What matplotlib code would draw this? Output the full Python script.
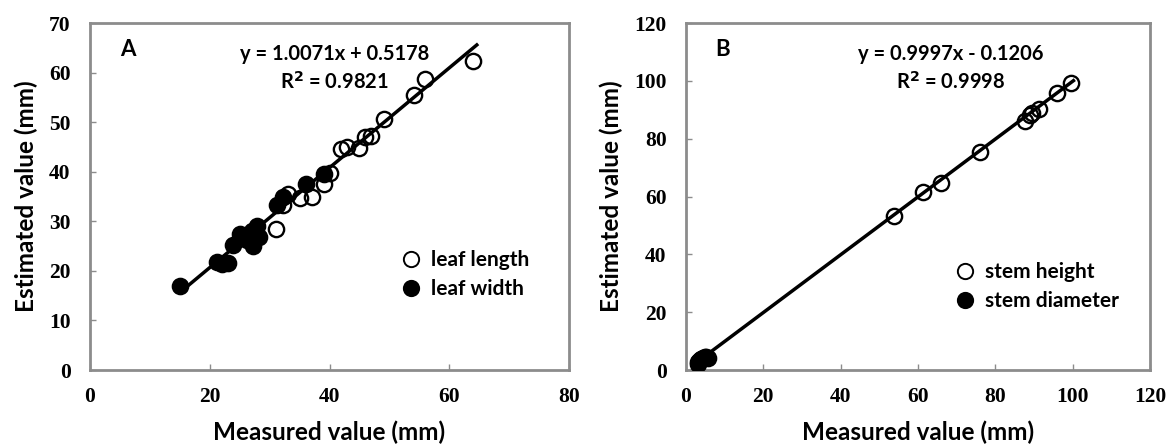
import numpy as np
import matplotlib
matplotlib.use('Agg')
import matplotlib.pyplot as plt
from matplotlib.lines import Line2D

# ---------------- DATA ----------------
# A: leaf length (open) / leaf width (filled), mm
leaf_length_x = [64.0, 56.0, 54.1, 49.1, 47.0, 45.9, 45.0, 43.0, 42.0, 40.0, 39.0, 37.0, 35.0, 33.0, 32.2, 31.0]
leaf_length_y = [62.3, 58.7, 55.5, 50.7, 47.2, 47.0, 44.8, 45.0, 44.5, 39.7, 37.6, 35.0, 34.6, 35.5, 33.3, 28.4]
leaf_width_x = [15.1, 21.2, 22.0, 23.0, 23.8, 25.0, 26.2, 27.3, 27.0, 27.9, 28.3, 31.2, 32.3, 36.0, 39.0]
leaf_width_y = [17.0, 21.8, 21.4, 21.5, 25.2, 27.4, 26.2, 25.1, 28.0, 29.1, 26.9, 33.2, 34.9, 37.5, 39.5]

# B: stem height (open) / stem diameter (filled), mm
stem_height_x = [99.6, 95.9, 91.4, 89.6, 89.0, 87.6, 76.1, 66.0, 61.4, 53.8]
stem_height_y = [99.4, 95.8, 90.3, 89.0, 88.3, 86.0, 75.4, 64.8, 61.4, 53.2]
stem_diam_x = [3.0, 3.2, 3.4, 3.7, 4.0, 4.4, 4.8, 5.3, 5.6]
stem_diam_y = [2.0, 2.6, 3.2, 3.5, 3.8, 4.1, 4.4, 4.6, 4.2]

fit_A = (1.0071, 0.5178)
fit_B = (0.9997, -0.1206)
eq_A = ['y = 1.0071x + 0.5178', 'R$^\\mathbf{2}$ = 0.9821']
eq_B = ['y = 0.9997x - 0.1206', 'R$^\\mathbf{2}$ = 0.9998']

# ---------------- STYLE ----------------
SANS = 'Lato'
SERIF = 'Liberation Serif'
GREY = '#8c8c8c'
MS = 11

fig = plt.figure(figsize=(11.74, 4.48), dpi=100)
axA = fig.add_axes([90/1174, 78/448, 479/1174, 347/448])
axB = fig.add_axes([686/1174, 78/448, 464/1174, 347/448])


def style_axes(ax, xmax, xstep, ymax, ystep):
    ax.set_xlim(0, xmax)
    ax.set_ylim(0, ymax)
    ax.set_xticks(np.arange(0, xmax + 1, xstep))
    ax.set_yticks(np.arange(0, ymax + 1, ystep))
    for s in ax.spines.values():
        s.set_color(GREY)
        s.set_linewidth(2)
    ax.tick_params(direction='in', length=4, width=1, color=GREY)
    ax.tick_params(axis='x', pad=12)
    ax.tick_params(axis='y', pad=14)
    for lab in ax.get_xticklabels() + ax.get_yticklabels():
        lab.set_fontfamily(SERIF)
        lab.set_fontweight('bold')
        lab.set_fontsize(15.5)
    ax.set_xlabel('Measured value (mm)', family=SANS, fontweight='bold', fontsize=17.5, labelpad=10)
    ax.set_ylabel('Estimated value (mm)', family=SANS, fontweight='bold', fontsize=17.5, labelpad=8)


def panel(ax, ox, oy, fx, fy, fit, eq, letter, labels, eq_x, leg_anchor):
    all_x = np.array(ox + fx)
    xs = np.array([all_x.min(), all_x.max() + 0.6])
    ax.plot(xs, fit[0] * xs + fit[1], color='black', lw=2.5, zorder=2)
    ax.plot(ox, oy, 'o', ms=MS, mfc='none', mec='black', mew=1.7, zorder=3)
    ax.plot(fx, fy, 'o', ms=MS, mfc='black', mec='black', mew=1.7, zorder=4)
    ax.text(0.062, 0.925, letter, transform=ax.transAxes, family=SANS, fontweight='bold',
            fontsize=16, ha='left', va='center')
    ax.text(eq_x, 0.91, eq[0], transform=ax.transAxes, family=SANS, fontweight='bold',
            fontsize=14.5, ha='center', va='center')
    ax.text(eq_x, 0.83, eq[1], transform=ax.transAxes, family=SANS, fontweight='bold',
            fontsize=14.5, ha='center', va='center')
    handles = [Line2D([], [], ls='none', marker='o', ms=MS, mfc='none', mec='black', mew=1.4),
               Line2D([], [], ls='none', marker='o', ms=MS, mfc='black', mec='black', mew=1.4)]
    ax.legend(handles, labels, loc='upper left', bbox_to_anchor=leg_anchor, frameon=False,
              prop={'family': SANS, 'weight': 'bold', 'size': 15},
              handletextpad=0.2, labelspacing=0.45, borderaxespad=0, handlelength=1.5)


style_axes(axA, 80, 20, 70, 10)
style_axes(axB, 120, 20, 120, 20)

panel(axA, leaf_length_x, leaf_length_y, leaf_width_x, leaf_width_y, fit_A, eq_A, 'A',
      ['leaf length', 'leaf width'], 0.51, (0.62, 0.37))
panel(axB, stem_height_x, stem_height_y, stem_diam_x, stem_diam_y, fit_B, eq_B, 'B',
      ['stem height', 'stem diameter'], 0.57, (0.55, 0.335))

plt.savefig('out.png', dpi=100)
plt.close(fig)
